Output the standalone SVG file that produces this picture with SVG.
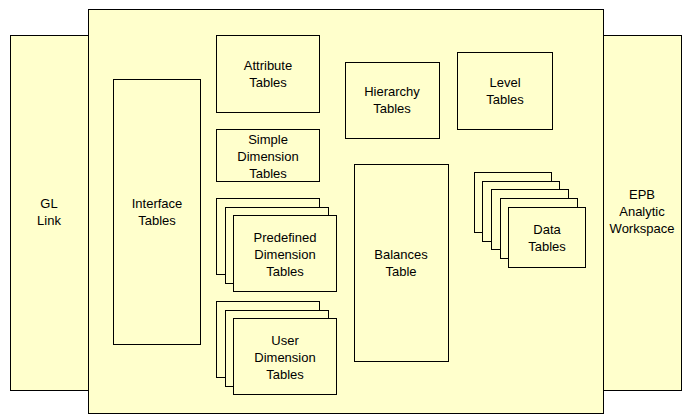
<svg xmlns="http://www.w3.org/2000/svg" width="688" height="418" viewBox="0 0 688 418">
<style>
rect{fill:#FFFFCC;stroke:#000;stroke-width:1}
text{font-family:"Liberation Sans",Arial,sans-serif;font-size:13px;text-anchor:middle;fill:#000}
</style>
<rect width="688" height="418" style="fill:#fff;stroke:none"/>
<g id="gl-link"><rect x="10.5" y="35.5" width="78" height="355"/><text x="49" y="208">GL</text><text x="49" y="225">Link</text></g>
<g id="epb"><rect x="603.5" y="35.5" width="78" height="355"/><text x="642" y="199">EPB</text><text x="642" y="216">Analytic</text><text x="642" y="233">Workspace</text></g>
<g id="container"><rect x="88.5" y="9.5" width="515" height="404"/></g>
<g id="interface"><rect x="113.5" y="79.5" width="87" height="265"/><text x="157" y="208">Interface</text><text x="157" y="225">Tables</text></g>
<g id="attribute"><rect x="216.5" y="35.5" width="103" height="77"/><text x="268" y="70">Attribute</text><text x="268" y="87">Tables</text></g>
<g id="simple"><rect x="216.5" y="129.5" width="103" height="52"/><text x="268" y="144">Simple</text><text x="268" y="161">Dimension</text><text x="268" y="178">Tables</text></g>
<g id="predefined"><rect x="216.5" y="198.5" width="103" height="76"/><rect x="225.5" y="207.5" width="103" height="76"/><rect x="233.5" y="215.5" width="103" height="76"/><text x="285" y="242">Predefined</text><text x="285" y="259">Dimension</text><text x="285" y="276">Tables</text></g>
<g id="user"><rect x="216.5" y="301.5" width="103" height="76"/><rect x="225.5" y="310.5" width="103" height="76"/><rect x="233.5" y="318.5" width="103" height="76"/><text x="285" y="345">User</text><text x="285" y="362">Dimension</text><text x="285" y="379">Tables</text></g>
<g id="hierarchy"><rect x="345.5" y="62.5" width="94" height="76"/><text x="392" y="96">Hierarchy</text><text x="392" y="113">Tables</text></g>
<g id="level"><rect x="457.5" y="52.5" width="95" height="77"/><text x="505" y="87">Level</text><text x="505" y="104">Tables</text></g>
<g id="balances"><rect x="354.5" y="164.5" width="94" height="197"/><text x="401" y="259">Balances</text><text x="401" y="276">Table</text></g>
<g id="data"><rect x="474.5" y="172.5" width="77" height="60"/><rect x="482.5" y="181.5" width="77" height="60"/><rect x="491.5" y="189.5" width="77" height="60"/><rect x="500.5" y="198.5" width="77" height="60"/><rect x="508.5" y="207.5" width="77" height="60"/><text x="547" y="234">Data</text><text x="547" y="251">Tables</text></g>
<g id="connectors"/>
</svg>
